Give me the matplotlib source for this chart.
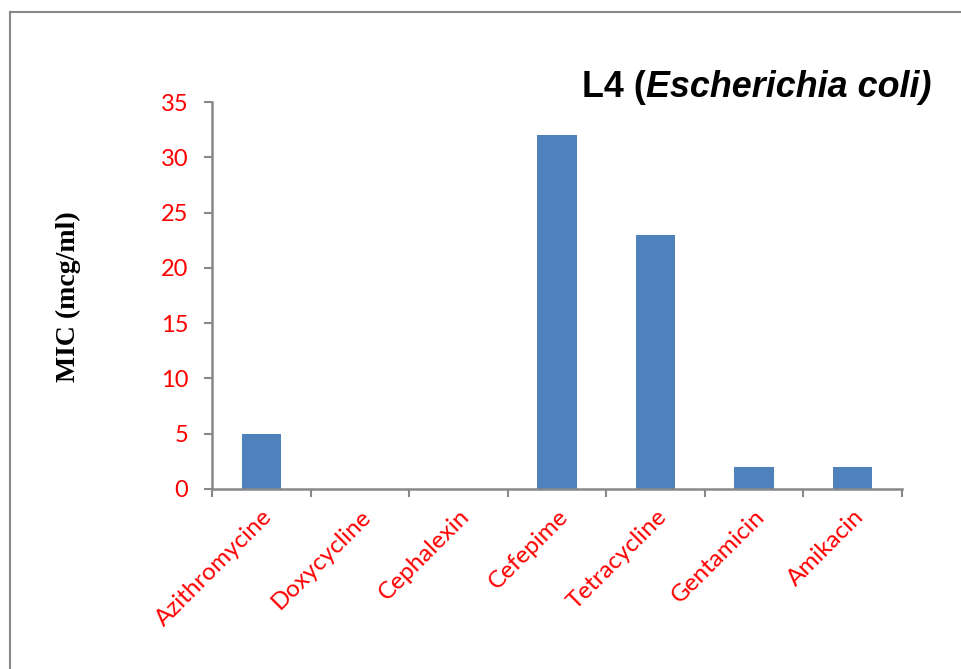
import matplotlib.pyplot as plt
import matplotlib.transforms as mtransforms
from matplotlib.lines import Line2D

# MIC values per antibiotic
drugs = ['Azithromycine', 'Doxycycline', 'Cephalexin', 'Cefepime',
         'Tetracycline', 'Gentamicin', 'Amikacin']
mic = [5, 0, 0, 32, 23, 2, 2]
yticks = [0, 5, 10, 15, 20, 25, 30, 35]

fig = plt.figure(figsize=(9.61, 6.69), dpi=100)
ax = fig.add_axes([0.2206, 0.2691, 0.7180, 0.5784])

# outer frame (only top and left visible in the picture)
fig.add_artist(Line2D([0.0104, 1.0], [0.982, 0.982], transform=fig.transFigure,
                      color='#888888', lw=1.5))
fig.add_artist(Line2D([0.0104, 0.0104], [0.0, 0.982], transform=fig.transFigure,
                      color='#888888', lw=1.5))

x = list(range(len(drugs)))
ax.bar(x, mic, width=0.4, color='#4F81BD')

ax.set_xlim(-0.5, len(drugs) - 0.5)
ax.set_ylim(0, 35)
ax.set_yticks(yticks)
ax.set_yticklabels([str(v) for v in yticks], color='red', fontsize=17, family='Lato')

# x ticks sit between categories, labels centred on them
ax.set_xticks([i - 0.5 for i in range(len(drugs) + 1)])
ax.set_xticklabels([])
ax.set_xticks(x, minor=True)
ax.set_xticklabels(drugs, minor=True, rotation=45, ha='right', va='top',
                   rotation_mode='anchor', color='red', fontsize=17.5, family='Lato')
shift = mtransforms.ScaledTranslation(-5 / 100, -1 / 100, fig.dpi_scale_trans)
for lab in ax.get_xticklabels(minor=True):
    lab.set_transform(lab.get_transform() + shift)
ax.tick_params(axis='x', which='minor', length=0, pad=12)
ax.tick_params(axis='x', which='major', length=6, width=1.5, color='#888888')
ax.tick_params(axis='y', length=6, width=1.5, color='#888888', pad=11)

for side in ['top', 'right']:
    ax.spines[side].set_visible(False)
for side in ['left', 'bottom']:
    ax.spines[side].set_color('#888888')
    ax.spines[side].set_linewidth(1.8)

fig.text(0.071, 0.556, 'MIC (mcg/ml)', rotation=90, ha='center', va='center',
         family='Liberation Serif', fontweight='bold', fontsize=20)

t1 = fig.text(0.606, 0.855, 'L4 (', family='Liberation Sans', fontweight='bold',
              fontsize=25.8, ha='left', va='baseline')
ax.annotate('Escherichia coli)', xy=(1, 0), xycoords=t1, ha='left', va='bottom',
            family='Liberation Sans', fontweight='bold', fontstyle='italic',
            fontsize=25.8, annotation_clip=False)

fig.savefig('out.png', dpi=100)
